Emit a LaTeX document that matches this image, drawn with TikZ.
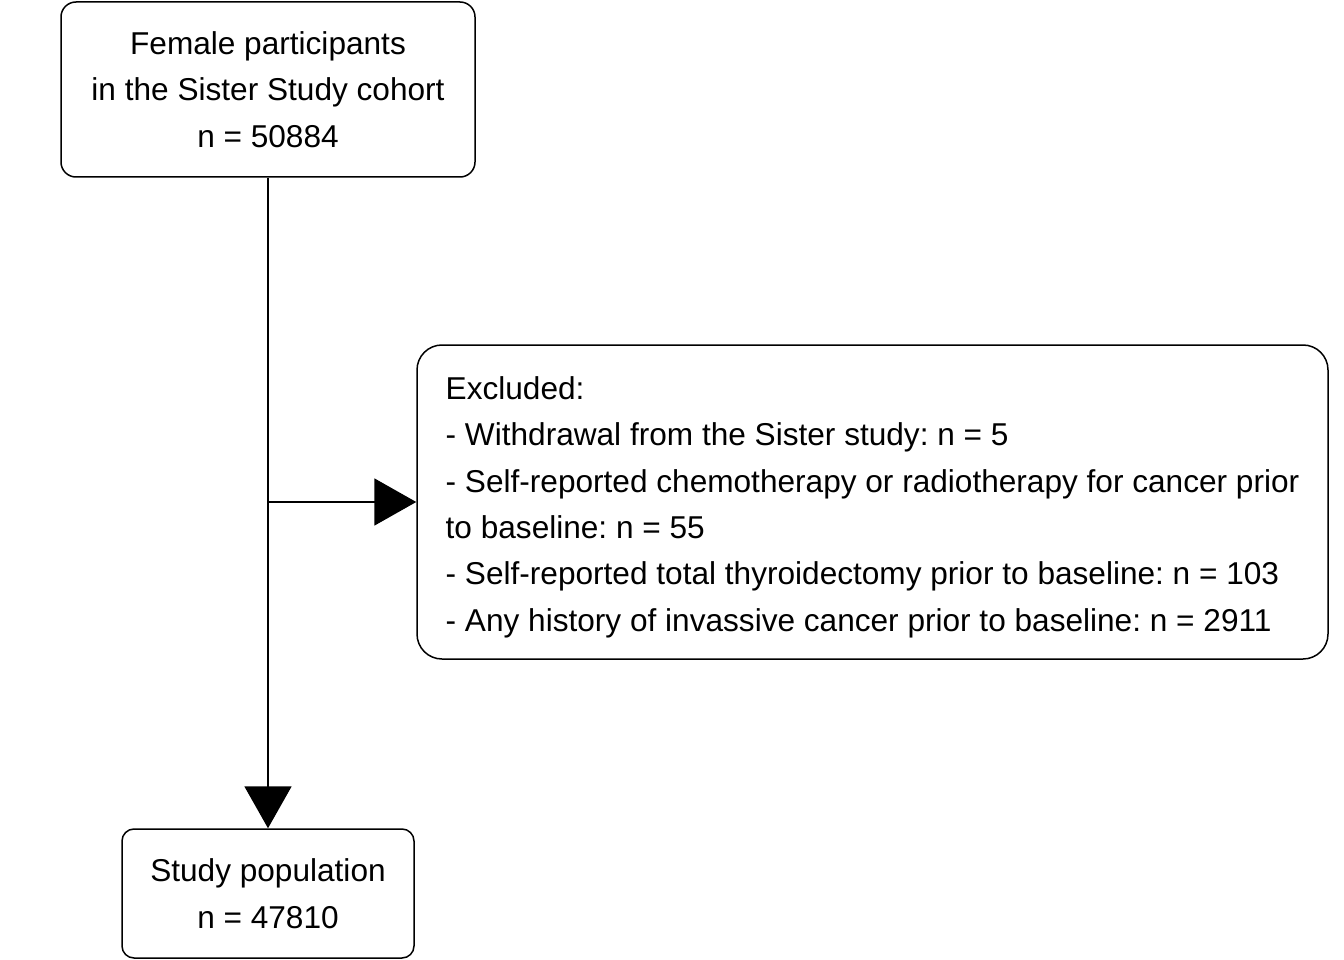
\documentclass[tikz,border=0pt]{standalone}
\usepackage{fontspec}
\setmainfont{Liberation Sans}
\frenchspacing
\usetikzlibrary{arrows.meta}
\begin{document}
\begin{tikzpicture}[x=1pt,y=-1pt,
  box/.style={draw, line width=1.5pt, inner sep=0pt, font=\fontsize{31.6}{46.4}\selectfont},
  arr/.style={line width=2pt, -{Triangle[length=42pt,width=47pt]}}]
\useasboundingbox (0,0) rectangle (1344,960);
\node[box, rounded corners=15pt, minimum width=414pt, minimum height=175pt, align=center] (top) at (268,89.5)
  {Female participants\\in the Sister Study cohort\\n = 50884};
\node[box, rounded corners=25pt, minimum width=911pt, minimum height=314pt, align=left] (excl) at (872.5,502)
  {\rule{0pt}{33pt}Excluded:\\- Withdrawal from the Sister study: n = 5\\- Self-reported chemotherapy or radiotherapy for cancer prior\\to baseline: n = 55\\- Self-reported total thyroidectomy prior to baseline: n = 103\\- Any history of invassive cancer prior to baseline: n = 2911};
\node[box, rounded corners=12pt, minimum width=292pt, minimum height=129pt, align=center] (bot) at (268,893.5)
  {Study population\\n = 47810};
\draw[arr] (top) -- (bot);
\draw[arr] (top.south |- excl.west) -- (excl.west);
\end{tikzpicture}
\end{document}
